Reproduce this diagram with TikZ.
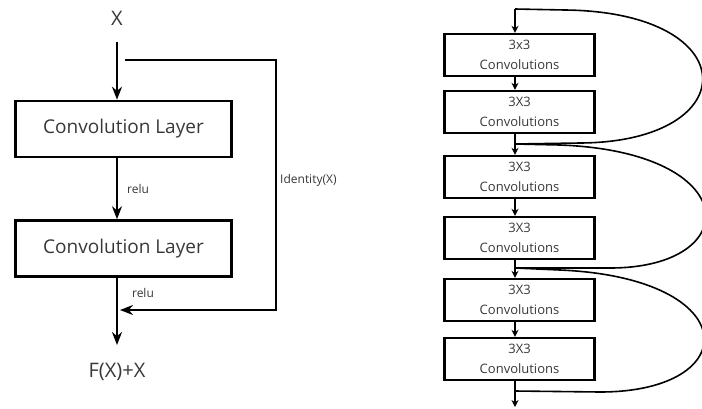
\documentclass[tikz,border=0pt]{standalone}
\usepackage{fontspec}
\setmainfont{Open Sans}
\usepackage{xcolor}
\usetikzlibrary{arrows.meta, positioning}

\definecolor{labelgray}{HTML}{383838}

\tikzset{
    layer/.style={draw, line width=2.6pt, minimum width=216pt, minimum height=56pt,
        inner sep=0pt, text=labelgray, font=\fontsize{19}{22}\selectfont},
    conv/.style={draw, line width=2.4pt, minimum width=150pt, minimum height=42pt,
        inner sep=0pt, align=center, text=labelgray, font=\fontsize{13}{20}\selectfont},
    flow/.style={-{Stealth[length=13pt, width=10pt]}, line width=2.4pt},
    smallflow/.style={-{Stealth[length=7pt, width=7pt]}, line width=1.6pt},
    skip/.style={line width=1.6pt},
    tag/.style={text=labelgray, font=\fontsize{12}{13}\selectfont, inner sep=1pt}
}

\begin{document}
\begin{tikzpicture}[x=1pt, y=-1pt]
    \useasboundingbox (0,0) rectangle (702,408);

    % residual block
    \node[text=labelgray, font=\fontsize{20}{22}\selectfont] (x) at (117,18) {X};
    \node[layer] (conv1) at (123.5,129) {Convolution Layer};
    \node[layer] (conv2) at (123.5,248.5) {Convolution Layer};
    \node[text=labelgray, font=\fontsize{20}{22}\selectfont] (out) at (117,372) {F(X)+X};

    \coordinate (top) at (117,42);
    \coordinate (tapin) at (125,60);
    \coordinate (tapout) at (120,310);
    \coordinate (sum) at (117,345);

    \draw[flow] (top) -- (top |- conv1.north);
    \draw[flow] (top |- conv1.south) -- (top |- conv2.north)
        node[tag, midway, right=8pt] {relu};
    \draw[flow] (top |- conv2.south) -- (sum);
    \node[tag] at (143,293) {relu};

    % shortcut
    \draw[flow] (tapin) -- (276,60) |- (tapout)
        node[tag, pos=0.24, right=2pt] {Identity(X)};

    % stack of 3x3 convolutions
    \node[conv] (c1) at (519.5,55) {3x3\\Convolutions};
    \node[conv] (c2) at (519.5,112) {3X3\\Convolutions};
    \node[conv] (c3) at (519.5,177) {3X3\\Convolutions};
    \node[conv] (c4) at (519.5,238) {3X3\\Convolutions};
    \node[conv] (c5) at (519.5,300) {3X3\\Convolutions};
    \node[conv] (c6) at (519.5,359) {3X3\\Convolutions};

    \coordinate (j0) at (515,9);
    \coordinate (j1) at (515,144);
    \coordinate (j2) at (515,268);
    \coordinate (j3) at (515,391);
    \coordinate (end) at (515,407);

    \draw[smallflow] (j0) -- (j0 |- c1.north);
    \draw[smallflow] (j0 |- c1.south) -- (j0 |- c2.north);
    \draw[smallflow] (j0 |- c2.south) -- (j0 |- c3.north);
    \draw[smallflow] (j0 |- c3.south) -- (j0 |- c4.north);
    \draw[smallflow] (j0 |- c4.south) -- (j0 |- c5.north);
    \draw[smallflow] (j0 |- c5.south) -- (j0 |- c6.north);
    \draw[smallflow] (j0 |- c6.south) -- (end);

    % skip connections
    \draw[skip] (j0) -- (565,10) .. controls (746,12) and (746,142) .. (580,143) -- (j1);
    \draw[skip] (j1) -- (560,145) .. controls (745,152) and (745,268) .. (610,268) -- (j2);
    \draw[skip] (j2) -- (560,270) .. controls (745,278) and (745,392) .. (600,392) -- (j3);
\end{tikzpicture}
\end{document}
